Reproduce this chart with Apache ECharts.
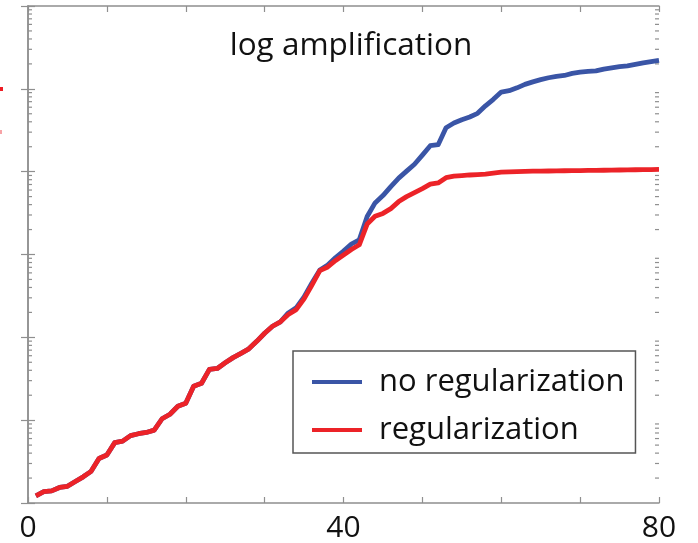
<!DOCTYPE html>
<html>
<head>
<meta charset="utf-8">
<style>
  html, body { margin: 0; padding: 0; background: #fff; }
  #chart { width: 698px; height: 543px; }
</style>
<script src="https://cdn.jsdelivr.net/npm/echarts@6/dist/echarts.min.js"></script>
</head>
<body>
<div id="chart"></div>
<script>
// Iteration numbers shared by both runs
var iterations = [
  1, 2, 3, 4, 5, 6, 7, 8, 9, 10, 11, 12, 13, 14, 15, 16, 17, 18, 19, 20,
  21, 22, 23, 24, 25, 26, 27, 28, 29, 30, 31, 32, 33, 34, 35, 36, 37, 38, 39, 40,
  41, 42, 43, 44, 45, 46, 47, 48, 49, 50, 51, 52, 53, 54, 55, 56, 57, 58, 59, 60,
  61, 62, 63, 64, 65, 66, 67, 68, 69, 70, 71, 72, 73, 74, 75, 76, 77, 78, 79, 80
];

// Amplification without regularization
var noRegularization = [
  1.22, 1.37, 1.40, 1.54, 1.59, 1.82, 2.07, 2.41, 3.44, 3.79,
  5.36, 5.58, 6.51, 6.86, 7.11, 7.58, 10.4, 11.8, 14.7, 16.0,
  25.7, 27.9, 41.1, 42.1, 49.3, 56.9, 64.2, 72.7, 89.5, 112,
  136, 154, 197, 227, 308, 454, 651, 747, 920, 1102,
  1339, 1503, 2870, 4198, 5140, 6592, 8350, 10140, 12280, 15810,
  20560, 21150, 33900, 38630, 42360, 45710, 50580, 62400, 74700, 91450,
  94900, 102800, 113300, 121400, 129100, 136100, 141500, 145000, 153500, 158900,
  162200, 164400, 173300, 179100, 185000, 189400, 197300, 205700, 212600, 220400
];

// Amplification with regularization
var regularization = [
  1.22, 1.37, 1.40, 1.54, 1.59, 1.82, 2.07, 2.41, 3.44, 3.79,
  5.36, 5.58, 6.51, 6.86, 7.11, 7.58, 10.4, 11.8, 14.7, 16.0,
  25.7, 27.9, 41.1, 42.1, 49.3, 56.9, 64.2, 72.7, 89.5, 112,
  136, 154, 189, 216, 291, 427, 638, 707, 847, 986,
  1148, 1309, 2330, 2893, 3135, 3583, 4353, 5000, 5585, 6237,
  7067, 7311, 8467, 8828, 8975, 9120, 9204, 9333, 9590, 9862,
  9953, 10030, 10090, 10140, 10170, 10190, 10230, 10260, 10290, 10320,
  10340, 10370, 10400, 10430, 10480, 10510, 10540, 10570, 10600, 10660
];

var seriesNames = ['no regularization', 'regularization'];
var titleText = 'log amplification';
var xTickLabels = [0, 40, 80];

var FONT = '"Open Sans", "DejaVu Sans", sans-serif';
var FRAME = '#8f8f8f';
var BLUE = '#3a55a6';
var RED = '#ec2328';

function pairs(ys) {
  return ys.map(function (y, i) { return [iterations[i], y]; });
}

// Minor tick values (2..9 within each decade) for the log axis
var minorTickValues = [];
for (var d = 0; d < 6; d++) {
  for (var m = 2; m <= 9; m++) minorTickValues.push(m * Math.pow(10, d));
}

var chart = echarts.init(document.getElementById('chart'), null, { renderer: 'canvas' });

var xAxisBase = {
  type: 'value', min: 0, max: 80, interval: 10,
  axisLine: { show: true, lineStyle: { color: FRAME, width: 1.5 } },
  axisTick: { show: true, inside: true, length: 6, lineStyle: { color: FRAME, width: 1.2 } },
  splitLine: { show: false }
};
var yAxisBase = {
  type: 'log', logBase: 10, min: 1, max: 1000000,
  axisLine: { show: true, lineStyle: { color: FRAME, width: 1.5 } },
  axisTick: { show: true, inside: true, length: 7, lineStyle: { color: FRAME, width: 1.2 } },
  axisLabel: { show: false },
  splitLine: { show: false }
};

chart.setOption({
  animation: false,
  backgroundColor: '#fff',
  title: {
    text: titleText,
    left: 346, top: 25, textAlign: 'center',
    textStyle: { fontFamily: FONT, fontWeight: 'normal', fontSize: 31.5, color: '#111' }
  },
  grid: { left: 28, right: 39, top: 6, bottom: 39, containLabel: false },
  legend: {
    data: seriesNames,
    orient: 'vertical',
    left: 293, top: 351,
    padding: [15, 11, 7, 19],
    itemGap: 16,
    itemWidth: 50, itemHeight: 4,
    icon: 'rect',
    borderColor: '#555', borderWidth: 1.5,
    backgroundColor: '#fff',
    textStyle: { fontFamily: FONT, fontSize: 31, color: '#111', lineHeight: 32, padding: [0, 0, 0, 12] }
  },
  xAxis: [
    Object.assign({}, xAxisBase, {
      position: 'bottom',
      axisLabel: {
        show: true, margin: 10, fontFamily: FONT, fontSize: 30, color: '#111',
        formatter: function (v) { return xTickLabels.indexOf(v) >= 0 ? String(v) : ''; }
      }
    }),
    Object.assign({}, xAxisBase, { position: 'top', axisLabel: { show: false } })
  ],
  yAxis: [
    Object.assign({}, yAxisBase, { position: 'left' }),
    Object.assign({}, yAxisBase, { position: 'right' })
  ],
  series: [
    {
      name: seriesNames[0], type: 'line', data: pairs(noRegularization),
      showSymbol: false, symbol: 'none', color: BLUE,
      lineStyle: { color: BLUE, width: 4.8, join: 'round' }, z: 2
    },
    {
      name: seriesNames[1], type: 'line', data: pairs(regularization),
      showSymbol: false, symbol: 'none', color: RED,
      lineStyle: { color: RED, width: 4.8, join: 'round' }, z: 3
    },
    {
      // minor ticks of the log axis on the left and right frame edges
      type: 'custom', silent: true, clip: false, z: 1,
      data: minorTickValues,
      renderItem: function (params, api) {
        var v = api.value(0);
        var l = api.coord([0, v]);
        var r = api.coord([80, v]);
        var style = { stroke: FRAME, lineWidth: 1.2 };
        return {
          type: 'group',
          children: [
            { type: 'line', shape: { x1: l[0], y1: l[1], x2: l[0] + 4, y2: l[1] }, style: style },
            { type: 'line', shape: { x1: r[0] - 4, y1: r[1], x2: r[0], y2: r[1] }, style: style }
          ]
        };
      },
      encode: { y: 0 }
    }
  ],
  graphic: [
    { type: 'rect', shape: { x: 0, y: 87, width: 3, height: 4 }, style: { fill: '#ee1c24' } },
    { type: 'rect', shape: { x: 0, y: 130, width: 2, height: 4 }, style: { fill: '#f7a3a6' } }
  ]
});
</script>
</body>
</html>
